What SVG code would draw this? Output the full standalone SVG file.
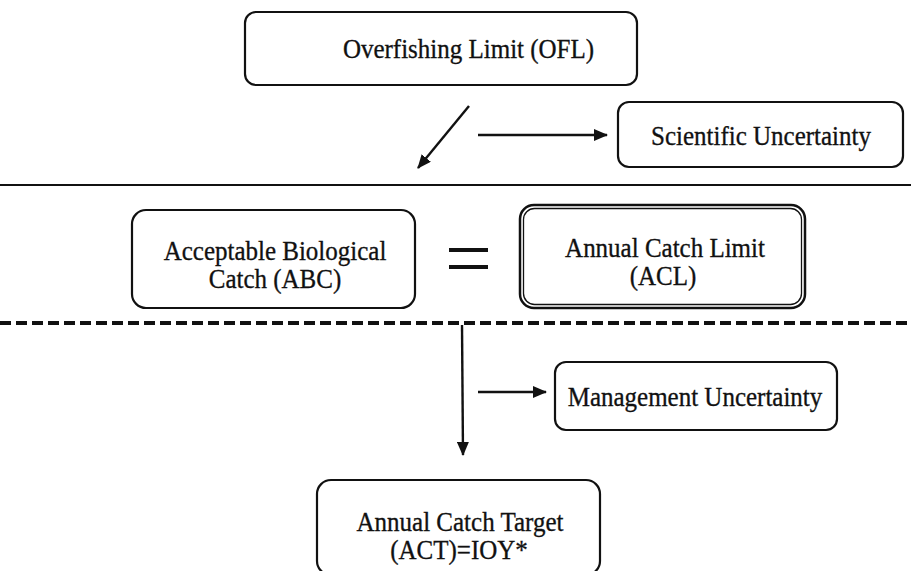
<svg xmlns="http://www.w3.org/2000/svg" width="911" height="571" viewBox="0 0 911 571">
<style>
.box{fill:#fff;stroke:#111;stroke-width:2.2}
.t{font-family:"Liberation Serif","Times New Roman",serif;font-size:25px;fill:#111;stroke:#111;stroke-width:0.3;text-anchor:middle}
.ln{stroke:#111;stroke-width:2.4;fill:none}
</style>
<defs>
<marker id="ah" viewBox="0 0 14 12" refX="13" refY="6" markerWidth="14" markerHeight="12" markerUnits="userSpaceOnUse" orient="auto">
<path d="M0,0 L14,6 L0,12 z" fill="#111"/>
</marker>
</defs>
<rect width="911" height="571" fill="#fff"/>
<g id="ofl">
<rect class="box" x="245" y="12" width="392" height="73" rx="11"/>
<text class="t" transform="translate(468.5,58) scale(1,1.08)">Overfishing Limit (OFL)</text>
</g>
<g id="sci">
<rect class="box" x="618" y="102" width="285" height="65" rx="11"/>
<text class="t" transform="translate(761,145) scale(1,1.08)">Scientific Uncertainty</text>
</g>
<g id="abc">
<rect class="box" x="132" y="210" width="283" height="98" rx="14"/>
<text class="t" transform="translate(275,260) scale(1,1.08)">Acceptable Biological</text>
<text class="t" transform="translate(275,288) scale(1,1.08)">Catch (ABC)</text>
</g>
<g id="equals">
<rect x="449" y="248" width="39" height="4" fill="#111"/>
<rect x="449" y="265" width="39" height="4" fill="#111"/>
</g>
<g id="acl">
<rect x="520" y="205" width="285" height="103" rx="14" fill="#fff" stroke="#111" stroke-width="2.5"/>
<rect x="523.5" y="208.5" width="278" height="96" rx="11" fill="none" stroke="#111" stroke-width="1.3"/>
<text class="t" transform="translate(665,257) scale(1,1.08)">Annual Catch Limit</text>
<text class="t" transform="translate(663,285) scale(1,1.08)">(ACL)</text>
</g>
<g id="mgmt">
<rect class="box" x="555" y="362" width="282" height="68" rx="11"/>
<text class="t" transform="translate(695,406) scale(1,1.08)">Management Uncertainty</text>
</g>
<g id="act">
<rect class="box" x="317" y="480" width="283" height="95" rx="14"/>
<text class="t" transform="translate(460,531) scale(1,1.08)">Annual Catch Target</text>
<text class="t" transform="translate(459,559) scale(1,1.08)">(ACT)=IOY*</text>
</g>
<g id="connectors">
<line x1="0" y1="185" x2="911" y2="185" stroke="#111" stroke-width="2"/>
<line x1="0" y1="323" x2="911" y2="323" stroke="#111" stroke-width="4" stroke-dasharray="11 5"/>
<line class="ln" x1="469" y1="106" x2="418" y2="168" marker-end="url(#ah)"/>
<line class="ln" x1="478" y1="135" x2="607" y2="135" marker-end="url(#ah)"/>
<line class="ln" x1="462" y1="325" x2="463" y2="455" marker-end="url(#ah)"/>
<line class="ln" x1="478" y1="392" x2="546" y2="392" marker-end="url(#ah)"/>
</g>
</svg>
